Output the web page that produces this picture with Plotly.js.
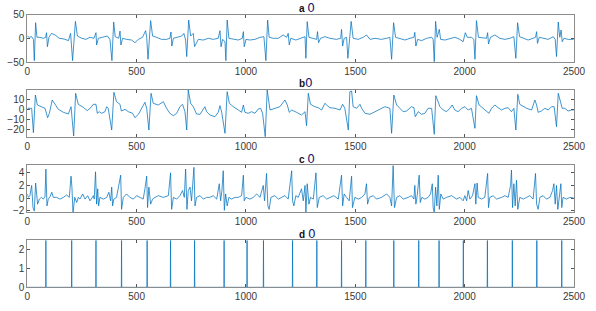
<!DOCTYPE html>
<html>
<head>
<meta charset="utf-8">
<script src="https://cdn.plot.ly/plotly-3.0.1.min.js"></script>
<style>html,body{margin:0;padding:0;background:#fff;}#chart{width:596px;height:311px;}</style>
</head>
<body>
<div id="chart"></div>
<script>
// ---- data (sample index, amplitude) ----
const aX = [0,9,20,28,32,38,44,58,73,84,88,92,99,111,127,146,168,188,198,207,220,229,249,268,287,305,314,317,325,348,366,378,387,395,402,418,424,428,436,454,477,492,508,527,541,546,552,564,573,591,614,637,652,657,661,668,686,706,716,724,729,738,747,759,765,782,805,828,850,873,881,886,893,904,908,914,922,942,965,983,988,992,1000,1018,1041,1064,1082,1091,1099,1106,1125,1148,1170,1186,1193,1198,1205,1228,1254,1270,1274,1280,1288,1308,1323,1327,1332,1341,1361,1384,1414,1433,1437,1442,1449,1460,1466,1481,1490,1513,1536,1551,1567,1590,1620,1643,1658,1666,1675,1684,1704,1727,1750,1768,1772,1777,1785,1803,1826,1849,1856,1861,1867,1874,1884,1890,1910,1932,1955,1978,1993,2003,2012,2031,2042,2047,2054,2063,2085,2100,2105,2109,2118,2138,2161,2184,2207,2225,2234,2242,2251,2268,2290,2313,2324,2329,2333,2341,2359,2382,2405,2414,2420,2428,2435,2441,2446,2454,2473,2498];
const aY = [5.2,2.5,3.8,-1.8,-46.5,33.2,2.5,2.5,0.4,2.5,12.2,-17.2,2.5,10.8,7.4,0.4,-1,-4.5,10.8,-46.5,36,5.2,0.4,-1.8,2.5,0.4,12.2,-13.6,0.4,2.5,5.2,-1.8,-46.5,34.6,3.8,0.4,15.7,-13.6,0.4,-1.8,-3.2,-8.8,-1.8,2.5,16.5,2.5,-43.7,37.5,5.2,2.5,-1.8,-1.8,0.4,13.6,-15.8,0.4,2.5,5.2,10.8,-3.2,-38,38.8,5.2,10.8,-17,-1.8,-3.2,0.4,-1.8,0.4,16.5,-17.2,-1.8,-6.7,-46.5,38.8,0.4,-1.8,-3.2,0.4,14.4,-17.2,-1.8,-3.2,-1.8,2.5,3.8,-46.5,38.8,2.5,0.4,0.4,7.4,2.5,10.8,-13.6,0.4,-3.2,0.4,3.8,-41.6,35.4,2.5,0.4,-1.8,14.4,-8.8,0.4,3.8,0.4,-1.8,0.4,19.2,-15.8,0.4,2.5,-41.6,36,0.4,-1.8,2.5,7.4,-1.8,0.4,-1.8,0.4,2.5,-43.7,33.2,2.5,0.4,-3.2,0.4,2.5,12.9,-15.8,-1.8,-4.5,0.4,2.5,-1.8,-48.6,36,2.5,19.2,-1.8,-3.2,0.4,2.5,-1.8,-6.7,12.2,2.5,2.5,-1.8,-43.7,37.5,2.5,0.4,0.4,12.2,-11.5,2.5,7.4,0.4,-1.8,0.4,3.8,-41.6,33.2,3.8,0.4,-3.2,0.4,2.5,14.4,-10.2,2.5,0.4,-1.8,3.8,-1.8,-38,34.6,2.5,17.8,-6.7,0.4,-1.8,-1.8];

const bX = [0,20,28,37,46,66,81,93,101,114,127,142,165,188,200,212,221,233,256,274,290,302,314,320,329,340,355,363,370,386,396,408,424,430,447,462,482,492,508,523,538,546,556,566,576,599,622,637,652,668,683,698,710,721,729,736,747,759,774,790,805,812,820,835,858,873,881,889,904,914,924,942,965,980,988,995,1010,1026,1041,1056,1067,1076,1088,1097,1110,1132,1155,1178,1189,1198,1209,1231,1254,1270,1277,1285,1295,1315,1331,1346,1361,1372,1384,1407,1430,1442,1452,1468,1475,1483,1490,1506,1521,1529,1544,1567,1590,1612,1635,1658,1666,1676,1689,1704,1719,1734,1750,1757,1768,1774,1788,1803,1818,1833,1849,1861,1868,1879,1887,1902,1917,1932,1943,1955,1970,1986,2001,2016,2031,2047,2054,2066,2085,2100,2111,2123,2138,2153,2169,2184,2199,2214,2225,2234,2243,2252,2268,2283,2306,2321,2329,2336,2351,2367,2382,2397,2409,2420,2428,2438,2446,2458,2473,2489,2498];
const bY = [1,1,-23.4,14.3,4.3,2.6,1,-8.4,-4,9.3,4.3,0,-3,-4.7,2.6,-26.7,16,5,2,-1.4,1.6,5,5,-4,-2.4,-4,-2.4,2.6,1,-20.7,17,7.6,5,-1.7,0,-2.4,-4,-8.4,-5,1,7,1,-20.7,16,6,4.3,7.6,1,-4,-6.4,-4,2.6,5,-2.4,-20.7,19.3,6,2.6,-4.7,-5,1,2.6,-2.4,-5.7,-7.4,-3,3.6,-3,-24,17.6,6,2.6,-0.7,-3,4.3,-3,-4,-2.4,-4,0.3,1,-4,-27.4,19.3,-0.7,1,2.6,9.3,4.3,-3,-0.7,-3,-5.7,-2.4,-16.4,16,5,2.6,1.6,-0.7,6,3.6,1.6,1,-0.7,5,1,-20.7,17.6,18.3,2.6,1,5,1,-4,-5,-2.4,-0.7,2.6,1,-24,14.3,4.3,1,-2.4,-1.7,1,2.6,1.6,-7.4,-2.4,-5,-4,1,1,-25,13.6,7.6,2.6,-0.7,-2.4,1,4.3,-0.7,-2.4,1,2.6,-0.7,1,-19,13.6,4.3,1,-2.4,-4,1,4.3,1.6,-0.7,1,1.6,-2.4,1,-20.7,15,5,2.6,1,-0.7,9.3,4.3,-3,-1.7,1,-0.7,2.6,2.6,-17.4,16,7.6,1,1,-1.7,-0.7,-0.7];

const cX = [0,5,12,20,26,32,38,43,47,55,65,73,81,85,90,96,104,112,119,134,149,165,180,192,200,204,209,217,226,233,241,253,264,276,287,302,306,312,317,322,326,332,348,363,373,381,386,390,396,408,427,431,439,454,469,485,500,515,530,538,546,550,556,564,573,584,599,622,645,655,660,668,683,698,710,718,724,730,736,744,751,762,767,774,790,805,820,835,850,866,878,884,890,896,901,907,914,922,934,950,965,980,988,992,1000,1018,1033,1049,1064,1079,1085,1094,1100,1106,1114,1132,1148,1163,1178,1193,1209,1213,1219,1228,1239,1254,1262,1270,1274,1280,1288,1295,1308,1320,1326,1335,1353,1369,1384,1402,1422,1433,1437,1442,1449,1460,1472,1483,1487,1498,1513,1529,1544,1551,1556,1564,1582,1597,1620,1643,1658,1666,1673,1679,1689,1704,1719,1742,1757,1768,1772,1777,1783,1792,1797,1804,1818,1833,1844,1852,1856,1861,1867,1873,1879,1884,1891,1902,1917,1940,1963,1978,1993,2001,2009,2016,2024,2036,2047,2051,2057,2062,2077,2092,2105,2109,2115,2130,2146,2169,2184,2199,2210,2214,2219,2225,2231,2237,2243,2252,2268,2283,2298,2313,2324,2329,2336,2344,2359,2374,2390,2402,2408,2414,2420,2426,2432,2440,2444,2450,2466,2481,2498];
const cY = [0.64,0.1,0.37,1.98,-1.51,-2.05,2.36,0.1,-0.97,-0.17,0.1,-0.17,0.21,4.56,-1.24,-0.17,0.21,0.91,0.1,0.1,-0.17,0.1,0.48,0.1,3.44,1.72,-2.32,0.1,-0.7,0.1,-0.17,0.64,-0.17,0.37,-0.44,0.37,-0.17,4.13,-0.97,1.45,-1.24,0.1,-0.17,0.1,0.91,-0.44,1.72,-1.24,-0.17,0.1,3.6,-1.78,0.1,0.64,0.1,-0.17,0.37,0.1,-0.17,1.45,3.44,-1.51,1.72,-0.97,-0.17,0.1,0.37,0.1,0.37,3.97,-1.78,0.1,-0.17,0.37,1.18,0.1,4.56,-1.78,1.18,1.72,-0.44,4.83,-1.24,0.1,0.37,-0.17,0.1,0.1,0.37,-0.17,2.25,-0.44,1.18,4.29,-1.94,0.64,-1.24,0.1,-0.17,0.1,0.1,0.37,3.6,-0.44,0.1,-0.17,0.1,0.64,0.1,1.98,-0.44,3.87,-1.24,-1.78,0.1,0.37,-0.17,0.1,0.37,-0.17,4.29,-0.44,-1.24,0.37,0.1,1.45,-0.44,1.98,-2.32,2.25,-0.97,0.1,-0.17,3.97,-1.51,0.1,0.37,-0.17,0.1,0.37,-0.17,2.25,3.6,-1.24,0.64,0.1,-0.44,3.44,-1.51,0.1,-0.17,0.1,0.64,2.25,-0.97,0.1,0.37,-0.17,0.1,0.64,0.1,-1.24,5.1,-1.51,0.1,0.37,-0.17,0.1,0.37,-0.17,1.98,-0.97,0.37,3.6,-0.7,0.1,-0.17,0.1,0.64,2.25,-1.51,-2.32,1.72,-1.24,3.6,-1.78,0.64,-0.17,0.1,0.37,-0.17,0.1,-0.44,0.37,-0.44,1.18,-0.17,0.37,2.25,-0.97,2.36,0.1,-0.17,0.1,3.87,-1.51,0.1,0.37,-0.17,0.1,0.37,0.1,1.98,4.4,-1.51,2.25,-1.24,2.79,-1.78,0.1,-0.17,0.1,0.37,-0.17,3.87,-0.97,-1.78,0.1,0.37,-0.17,0.1,1.18,2.25,-0.97,1.98,-1.78,0.1,2.25,-1.51,0.1,-0.17,0.1,0];

const dPos = [85,203,314,431,548,655,765,900,1005,1080,1213,1324,1437,1548,1676,1790,1883,1994,2104,2218,2330,2444];
const dHeight = 2.5;

const titles = ['a','b','c','d'];
const titleSep = [' ','',' ',' '];
const yTicks = [[-50,0,50],[-20,-10,0,10],[-2,0,2,4],[0,1,2]];
const yRanges = [[-50,50],[-28,19.3],[-2.25,5.2],[0,2.5]];

// ---- build d trace from spike positions ----
const dX = [0], dY = [0];
dPos.forEach(p => { dX.push(p-1, p, p+1); dY.push(0, dHeight, 0); });
dX.push(2500); dY.push(0);

const W = 596, H = 311;
const boxes = [[14.7,62.3],[90,137.3],[165,212.3],[240.3,287.3]]; // top,bottom px
const titleY = [8.3,83.3,159,234];
const blue = '#0072BD';
const series = [[aX,aY],[bX,bY],[cX,cY],[dX,dY]];

const traces = series.map((s,i) => ({
  x: s[0], y: s[1], type: 'scatter', mode: 'lines',
  line: {color: blue, width: 0.75},
  xaxis: 'x' + (i ? i+1 : ''), yaxis: 'y' + (i ? i+1 : ''),
  hoverinfo: 'skip'
}));

const layout = {
  width: W, height: H, margin: {l:0,r:0,t:0,b:0},
  paper_bgcolor: '#fff', plot_bgcolor: '#fff', showlegend: false,
  font: {family: 'Liberation Sans, Arial, sans-serif', size: 10, color: '#3a3a3a'},
  annotations: []
};
const axCommon = {
  showline: true, linecolor: '#8c8c8c', linewidth: 1, mirror: 'ticks',
  ticks: 'inside', ticklen: 3, tickcolor: '#555', tickwidth: 1,
  showgrid: false, zeroline: false, fixedrange: true,
  tickfont: {family: 'Liberation Sans, Arial, sans-serif', size: 10, color: '#3a3a3a'}
};
for (let i = 0; i < 4; i++) {
  const sfx = i ? String(i+1) : '';
  layout['xaxis' + sfx] = Object.assign({}, axCommon, {
    domain: [27.3/W, 574/W], range: [0, 2500], tickvals: [0,500,1000,1500,2000,2500],
    anchor: 'y' + sfx
  });
  layout['yaxis' + sfx] = Object.assign({}, axCommon, {
    domain: [1 - boxes[i][1]/H, 1 - boxes[i][0]/H], range: yRanges[i], tickvals: yTicks[i],
    anchor: 'x' + sfx, ticksuffix: ' '
  });
  layout.annotations.push({
    xref: 'paper', yref: 'paper', x: 297/W, y: 1 - titleY[i]/H,
    xanchor: 'left', yanchor: 'middle', showarrow: false,
    text: '<b>' + titles[i] + '</b>' + titleSep[i] + '<span style="font-family:DejaVu Sans;font-size:12px;color:#14206e">0</span>',
    font: {family: 'Liberation Sans, Arial, sans-serif', size: 10, color: '#111'}
  });
}

Plotly.newPlot('chart', traces, layout, {staticPlot: true, displayModeBar: false});
</script>
</body>
</html>
